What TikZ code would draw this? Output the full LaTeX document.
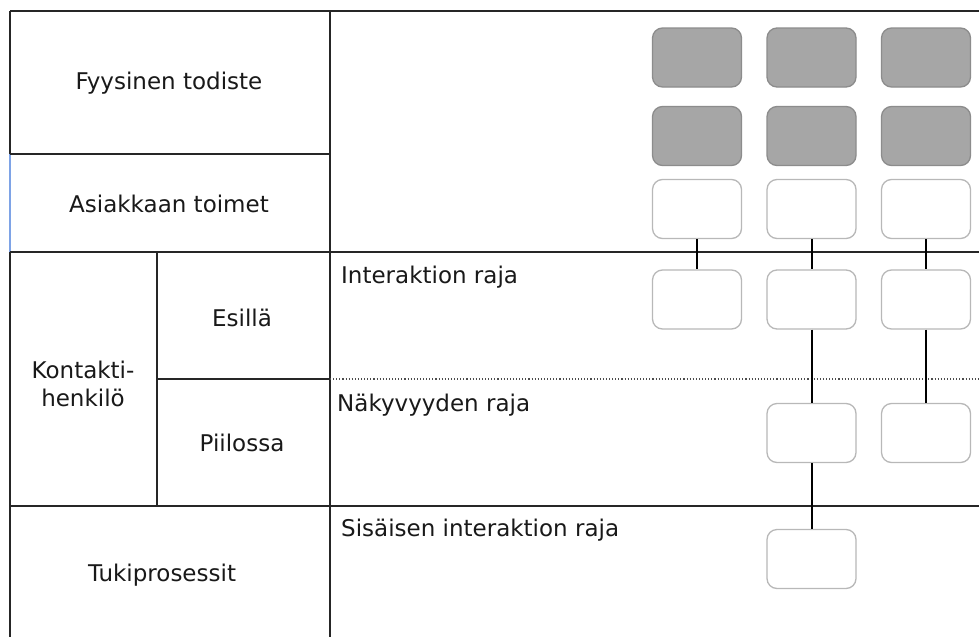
\documentclass[tikz,border=0pt]{standalone}
\usepackage{fontspec}
\setmainfont{DejaVu Sans}
\definecolor{edgeblue}{HTML}{7EA3E6}
\begin{document}
\begin{tikzpicture}[x=1pt,y=-1pt,
  grid/.style={draw=black!85, line width=2pt},
  label/.style={font=\fontsize{23}{27.5}\selectfont, text=black!90, inner sep=0pt},
  tag/.style={label, anchor=west},
  phys/.style={draw=black!45, fill=black!35, line width=1.3pt, rounded corners=10pt,
    minimum width=89pt, minimum height=59pt, inner sep=0pt},
  act/.style={draw=black!28, fill=white, line width=1.3pt, rounded corners=10pt,
    minimum width=89pt, minimum height=59pt, inner sep=0pt},
  link/.style={draw=black, line width=2pt}]
\useasboundingbox (0,0) rectangle (979,637);
\fill[white] (0,0) rectangle (979,637);

% swimlane frame
\draw[grid] (10,11) -- (979,11);
\draw[grid] (10,11) -- (10,154);
\draw[draw=edgeblue, line width=2pt] (10,154) -- (10,252);
\draw[grid] (10,252) -- (10,637);
\draw[grid] (330,11) -- (330,637);
\draw[grid] (10,154) -- (330,154);
\draw[grid] (10,252) -- (979,252);
\draw[grid] (157,252) -- (157,506);
\draw[grid] (157,379) -- (330,379);
\draw[black!70, line width=1.1pt, dotted] (330,379) -- (979,379);
\draw[grid] (10,506) -- (979,506);

% lane titles
\node[label] (fyys) at (169,83) {Fyysinen todiste};
\node[label] (asiak) at (169,204) {Asiakkaan toimet};
\node[label, align=center] (kontakti) at (83,384) {Kontakti-\\henkilö};
\node[label] (esilla) at (242,318) {Esillä};
\node[label] (piilossa) at (242,443) {Piilossa};
\node[label] (tuki) at (162,575) {Tukiprosessit};

% boundary names
\node[tag] (interaktio) at (341,277) {Interaktion raja};
\node[tag] (nakyvyys) at (337,405) {Näkyvyyden raja};
\node[tag] (sisainen) at (341,530) {Sisäisen interaktion raja};

% physical evidence
\node[phys] (p11) at (697,57.5) {};
\node[phys] (p12) at (811.5,57.5) {};
\node[phys] (p13) at (926,57.5) {};
\node[phys] (p21) at (697,136) {};
\node[phys] (p22) at (811.5,136) {};
\node[phys] (p23) at (926,136) {};

% customer actions
\node[act] (c1) at (697,209) {};
\node[act] (c2) at (811.5,209) {};
\node[act] (c3) at (926,209) {};

% onstage actions
\node[act] (on1) at (697,299.5) {};
\node[act] (on2) at (811.5,299.5) {};
\node[act] (on3) at (926,299.5) {};

% backstage actions
\node[act] (off2) at (811.5,433) {};
\node[act] (off3) at (926,433) {};

% support process
\node[act] (sup2) at (811.5,559) {};

% connectors
\draw[link] (c1.south) -- (on1.north);
\draw[link] (c2.south) -- (on2.north);
\draw[link] (c3.south) -- (on3.north);
\draw[link] (on2.south) -- (off2.north);
\draw[link] (on3.south) -- (off3.north);
\draw[link] (off2.south) -- (sup2.north);
\end{tikzpicture}
\end{document}
